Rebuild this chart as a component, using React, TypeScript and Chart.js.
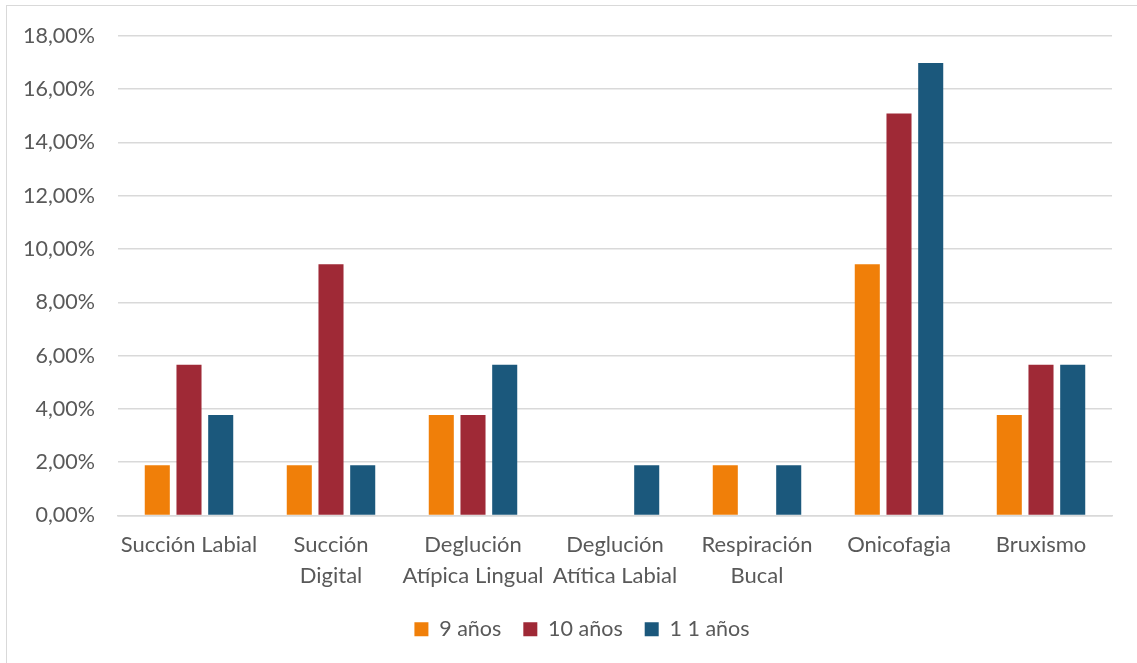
import React, { useEffect, useRef } from "react";
import { Chart, registerables } from "chart.js";

Chart.register(...registerables);

const categories: (string | string[])[] = [
  "Succión Labial",
  ["Succión", "Digital"],
  ["Deglución", "Atípica Lingual"],
  ["Deglución", "Atítica Labial"],
  ["Respiración", "Bucal"],
  "Onicofagia",
  "Bruxismo",
];
const seriesNames = ["9 años", "10 años", "1 1 años"];
const nineYears = [1.89, 1.89, 3.77, 0, 1.89, 9.43, 3.77];
const tenYears = [5.66, 9.43, 3.77, 0, 0, 15.09, 5.66];
const elevenYears = [3.77, 1.89, 5.66, 1.89, 1.89, 16.98, 5.66];
const colors = ["#F07F09", "#9F2936", "#1B587C"];
const yTickMax = 18;
const yTickStep = 2;

const FONT = "Lato, 'Noto Sans', sans-serif";
const TEXT = "#595959";

const legendShift = {
  id: "legendShift",
  afterLayout(chart: any) {
    const l = chart.legend;
    if (l) {
      l.left += 26;
      l.right += 26;
    }
  },
};

export default function App() {
  const ref = useRef<HTMLCanvasElement | null>(null);
  useEffect(() => {
    if (!ref.current) return;
    const values = [nineYears, tenYears, elevenYears];
    const chart = new Chart(ref.current, {
      type: "bar",
      data: {
        labels: categories,
        datasets: seriesNames.map((name, i) => ({
          label: name,
          data: values[i],
          backgroundColor: colors[i],
          borderWidth: 0,
          barPercentage: 0.79,
          categoryPercentage: 0.67,
        })),
      },
      plugins: [legendShift],
      options: {
        responsive: false,
        animation: false,
        layout: { padding: { left: 0, right: 25, top: 35, bottom: 13 } },
        plugins: {
          tooltip: { enabled: false },
          legend: {
            position: "bottom",
            labels: {
              boxWidth: 14,
              boxHeight: 14,
              padding: 22,
              color: TEXT,
              font: { family: FONT, size: 21.5 },
            },
          },
        },
        scales: {
          x: {
            grid: { display: false, drawTicks: false },
            border: { color: "#d9d9d9", width: 1.5 },
            ticks: {
              color: TEXT,
              font: { family: FONT, size: 22, lineHeight: 1.4 },
              padding: 14,
              maxRotation: 0,
              autoSkip: false,
            },
            afterFit: (s: any) => {
              s.height = 81;
            },
          },
          y: {
            min: 0,
            max: yTickMax,
            grid: { color: "#d9d9d9", lineWidth: 1.5, drawTicks: false },
            border: { display: false },
            ticks: {
              stepSize: yTickStep,
              color: TEXT,
              padding: 23,
              font: { family: FONT, size: 21.5 },
              callback: (v: any) => Number(v).toFixed(2).replace(".", ",") + "%",
            },
            afterFit: (s: any) => {
              s.width = 118;
            },
          },
        },
      },
    });
    return () => chart.destroy();
  }, []);
  return (
    <div
      style={{
        position: "fixed",
        left: 0,
        top: 0,
        width: 1137,
        height: 663,
        overflow: "hidden",
        background: "#fff",
      }}
    >
      <div
        style={{
          position: "absolute",
          left: 6,
          top: 5,
          width: 1150,
          height: 680,
          border: "1.5px solid #d9d9d9",
        }}
      />
      <canvas
        ref={ref}
        width={1137}
        height={663}
        style={{ position: "absolute", left: 0, top: 0 }}
      />
    </div>
  );
}
